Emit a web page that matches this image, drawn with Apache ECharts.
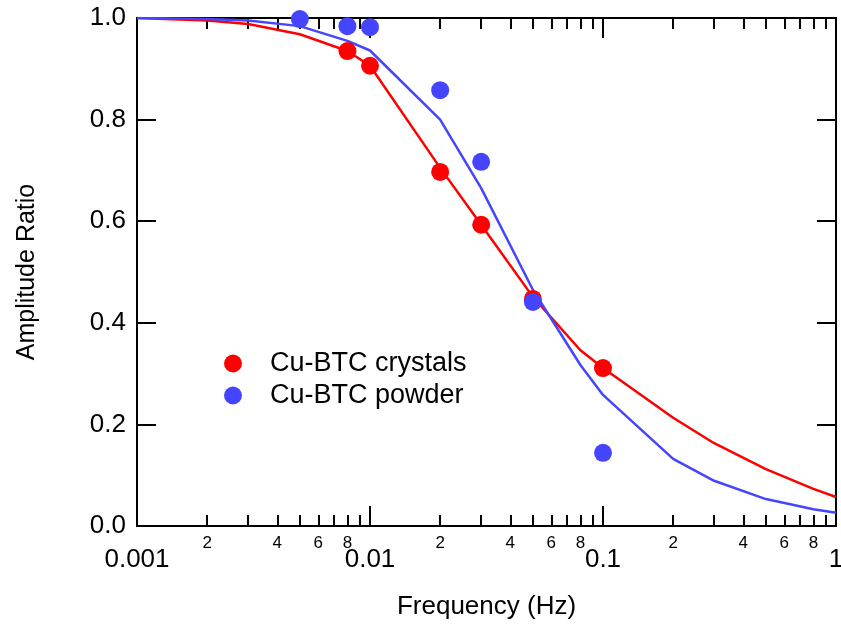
<!DOCTYPE html>
<html><head><meta charset="utf-8">
<script src="https://cdn.jsdelivr.net/npm/echarts@6/dist/echarts.min.js"></script>
<style>html,body{margin:0;padding:0;background:#fff}#c{width:841px;height:635px}</style>
</head><body><div id="c"></div>
<script>
// Measured points
const pointFreq = [0.005, 0.008, 0.01, 0.02, 0.03, 0.05, 0.1];
const crystalsPts = [null, 0.935, 0.906, 0.697, 0.593, 0.447, 0.311];
const powderPts = [0.998, 0.984, 0.982, 0.858, 0.717, 0.441, 0.144];
// Model curves
const curveFreq = [0.001, 0.002, 0.003, 0.005, 0.008, 0.01, 0.02, 0.03, 0.05, 0.08, 0.1, 0.2, 0.3, 0.5, 0.8, 1];
const crystalsCurve = [1.0, 0.995, 0.988, 0.968, 0.935, 0.906, 0.705, 0.593, 0.451, 0.346, 0.311, 0.213, 0.163, 0.112, 0.073, 0.057];
const powderCurve = [1.0, 0.998, 0.995, 0.984, 0.955, 0.936, 0.800, 0.665, 0.465, 0.317, 0.258, 0.132, 0.089, 0.053, 0.033, 0.026];
// Axis ticks
const majorTicks = [0.001, 0.01, 0.1, 1];
const majorLabels = ['0.001', '0.01', '0.1', '1'];
const decades = [0.001, 0.01, 0.1];
const minorMult = [2, 3, 4, 5, 6, 7, 8, 9];
const minorLabelMult = [2, 4, 6, 8];

const minorTicks = [], minorLabelVals = [];
decades.forEach(d => {
  minorMult.forEach(k => minorTicks.push(Number((k * d).toPrecision(3))));
  minorLabelMult.forEach(k => minorLabelVals.push(Number((k * d).toPrecision(3))));
});

const RED = '#ff0000', BLUE = '#4545ff';
const FONT = 'Arial, "Liberation Sans", sans-serif';
const pair = (xs, ys) => xs.map((x, i) => [x, ys[i]]).filter(p => p[1] != null);

const baseX = {
  type: 'log', logBase: 10, min: 0.001, max: 1, splitLine: { show: false },
  axisLine: { show: true, lineStyle: { color: '#000', width: 2 } }
};

const chart = echarts.init(document.getElementById('c'), null, { renderer: 'canvas' });
chart.setOption({
  animation: false,
  backgroundColor: '#fff',
  grid: { left: 137, right: 5, top: 18, bottom: 109, containLabel: false, outerBoundsMode: 'none' },
  legend: {
    data: ['Cu-BTC crystals', 'Cu-BTC powder'],
    orient: 'vertical', left: 224, top: 350, icon: 'circle', padding: 0,
    itemWidth: 18, itemHeight: 18, itemGap: 5,
    textStyle: { fontSize: 27, fontFamily: FONT, color: '#000', padding: [0, 0, 0, 23] }
  },
  xAxis: [
    Object.assign({}, baseX, {
      position: 'bottom', name: 'Frequency (Hz)', nameLocation: 'middle', nameGap: 68,
      nameTextStyle: { fontSize: 26, fontFamily: FONT, color: '#000' },
      axisTick: { inside: true, length: 20, lineStyle: { width: 2, color: '#000' }, customValues: majorTicks },
      axisLabel: { customValues: majorTicks, margin: 21, fontSize: 26, fontFamily: FONT, color: '#000',
        formatter: v => majorLabels[majorTicks.findIndex(t => Math.abs(Math.log10(t) - Math.log10(v)) < 1e-6)] }
    }),
    Object.assign({}, baseX, {
      position: 'bottom',
      axisTick: { inside: true, length: 11, lineStyle: { width: 2, color: '#000' }, customValues: minorTicks },
      axisLabel: { customValues: minorLabelVals, margin: 9, fontSize: 17, fontFamily: FONT, color: '#000',
        formatter: v => String(Math.round(v / Math.pow(10, Math.floor(Math.log10(v) + 1e-9)))) }
    }),
    Object.assign({}, baseX, {
      position: 'top',
      axisTick: { inside: true, length: 20, lineStyle: { width: 2, color: '#000' }, customValues: majorTicks },
      axisLabel: { show: false }
    }),
    Object.assign({}, baseX, {
      position: 'top',
      axisTick: { inside: true, length: 11, lineStyle: { width: 2, color: '#000' }, customValues: minorTicks },
      axisLabel: { show: false }
    })
  ],
  yAxis: [
    {
      type: 'value', min: 0, max: 1, interval: 0.2, position: 'left', splitLine: { show: false },
      name: 'Amplitude Ratio', nameLocation: 'middle', nameGap: 97,
      nameTextStyle: { fontSize: 25, fontFamily: FONT, color: '#000' },
      axisLine: { show: true, lineStyle: { color: '#000', width: 2 } },
      axisTick: { inside: true, length: 19, lineStyle: { width: 2, color: '#000' } },
      axisLabel: { margin: 11, fontSize: 26, fontFamily: FONT, color: '#000', formatter: v => v.toFixed(1) }
    },
    {
      type: 'value', min: 0, max: 1, interval: 0.2, position: 'right', splitLine: { show: false },
      axisLine: { show: true, lineStyle: { color: '#000', width: 2 } },
      axisTick: { inside: true, length: 19, lineStyle: { width: 2, color: '#000' } },
      axisLabel: { show: false }
    }
  ],
  series: [
    { name: 'crystals fit', type: 'line', data: pair(curveFreq, crystalsCurve), showSymbol: false, symbol: 'none',
      lineStyle: { color: RED, width: 2.5 }, itemStyle: { color: RED }, z: 2 },
    { name: 'powder fit', type: 'line', data: pair(curveFreq, powderCurve), showSymbol: false, symbol: 'none',
      lineStyle: { color: BLUE, width: 2.5 }, itemStyle: { color: BLUE }, z: 2 },
    { name: 'Cu-BTC crystals', type: 'scatter', data: pair(pointFreq, crystalsPts), symbolSize: 18,
      itemStyle: { color: RED, opacity: 1 }, clip: false, z: 3 },
    { name: 'Cu-BTC powder', type: 'scatter', data: pair(pointFreq, powderPts), symbolSize: 18,
      itemStyle: { color: BLUE, opacity: 1 }, clip: false, z: 4 }
  ]
});
</script>
</body></html>
